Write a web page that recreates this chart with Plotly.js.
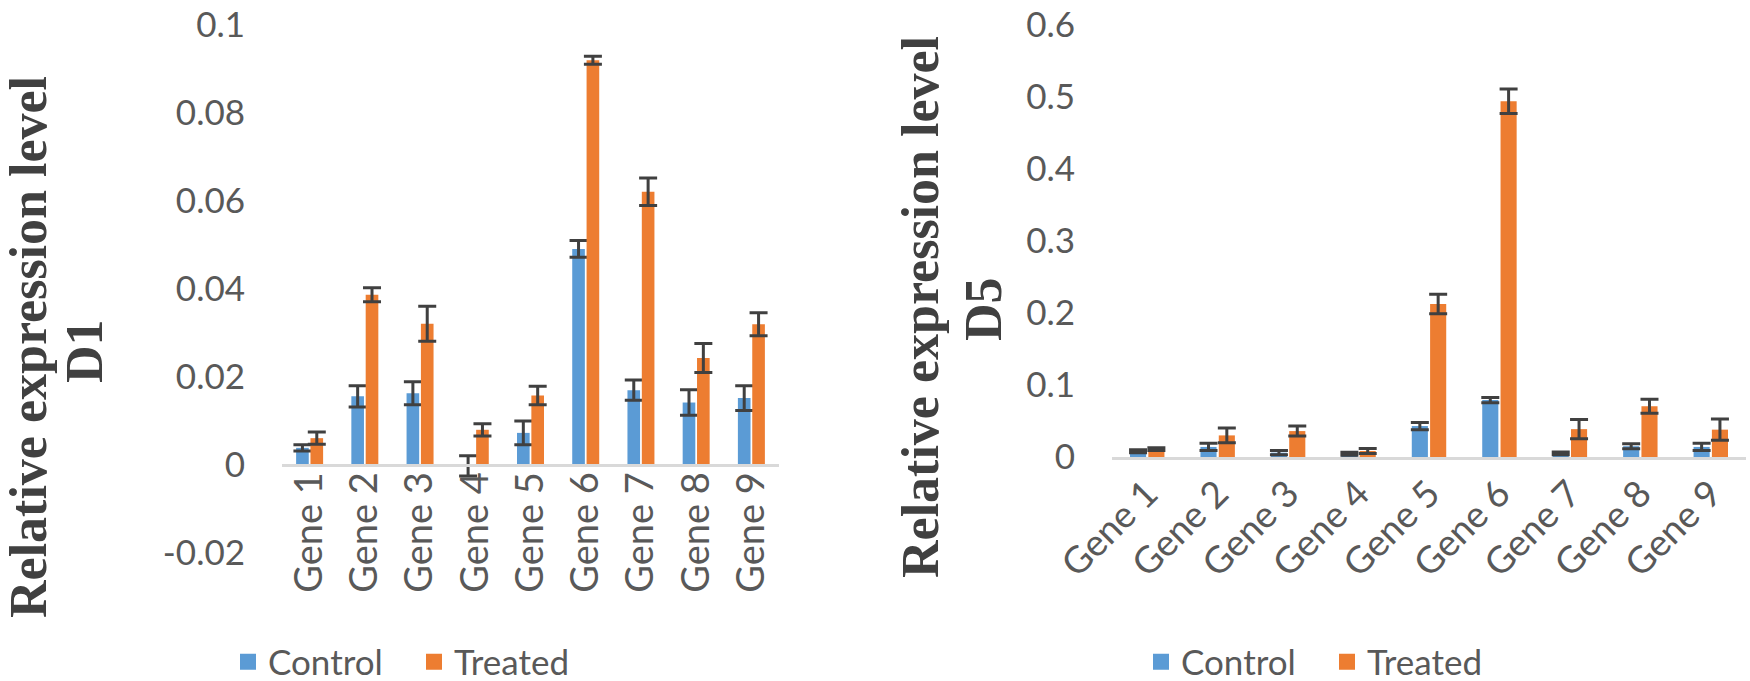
<!DOCTYPE html>
<html>
<head>
<meta charset="utf-8">
<script src="https://cdn.plot.ly/plotly-3.0.1.min.js"></script>
<style>
    html, body { margin: 0; padding: 0; background: #ffffff; }
    #chart { width: 1750px; height: 681px; }
</style>
</head>
<body>
<div id="chart"></div>
<script>
// gene names shared by both panels
const genes = ["Gene 1", "Gene 2", "Gene 3", "Gene 4", "Gene 5", "Gene 6", "Gene 7", "Gene 8", "Gene 9"];

// D1 panel
const d1Control    = [0.0039, 0.0156, 0.0163, -0.0002, 0.0073, 0.0491, 0.0170, 0.0142, 0.0152];
const d1ControlErr = [0.0007, 0.0024, 0.0026, 0.0023, 0.0027, 0.0019, 0.0023, 0.0029, 0.0028];
const d1Treated    = [0.0061, 0.0387, 0.0321, 0.0080, 0.0158, 0.0920, 0.0621, 0.0243, 0.0320];
const d1TreatedErr = [0.0014, 0.0016, 0.0040, 0.0014, 0.0021, 0.0009, 0.0031, 0.0033, 0.0026];

// D5 panel
const d5Control    = [0.008, 0.014, 0.006, 0.0045, 0.043, 0.079, 0.005, 0.015, 0.014];
const d5ControlErr = [0.002, 0.005, 0.003, 0.002, 0.005, 0.0035, 0.002, 0.0035, 0.005];
const d5Treated    = [0.011, 0.030, 0.036, 0.0084, 0.2125, 0.494, 0.0387, 0.0705, 0.038];
const d5TreatedErr = [0.002, 0.0103, 0.007, 0.0035, 0.0137, 0.017, 0.0133, 0.0098, 0.0148];

const d1Ticks = [-0.02, 0, 0.02, 0.04, 0.06, 0.08, 0.1];
const d5Ticks = [0, 0.1, 0.2, 0.3, 0.4, 0.5, 0.6];

const BLUE = "#5b9bd5";
const ORANGE = "#ed7d31";
const TEXT = "#595959";
const LABEL_FONT = "Lato, 'Open Sans', sans-serif";

window.addEventListener("DOMContentLoaded", init);


function init() {
    let data = dataset();
    Plotly.newPlot("chart", data, layout(), { staticPlot: true });
}


function barTrace(name, values, errors, color, xa, ya) {
    return {
        type: "bar",
        name: name,
        x: genes,
        y: values,
        xaxis: xa,
        yaxis: ya,
        showlegend: false,
        marker: { color: color },
        error_y: { type: "data", array: errors, visible: true, color: "#404040", thickness: 3, width: 9 }
    };
}


// legend-only entry, so the key gets a bigger square than the bar icon
function keyTrace(name, color, xa, ya, legend) {
    return {
        type: "scatter", mode: "markers", name: name,
        x: [null], y: [null], xaxis: xa, yaxis: ya, legend: legend,
        marker: { symbol: "square", size: 20, color: color }
    };
}


function dataset() {
    return [
        barTrace("Control", d1Control, d1ControlErr, BLUE, "x", "y"),
        barTrace("Treated", d1Treated, d1TreatedErr, ORANGE, "x", "y"),
        barTrace("Control", d5Control, d5ControlErr, BLUE, "x2", "y2"),
        barTrace("Treated", d5Treated, d5TreatedErr, ORANGE, "x2", "y2"),
        keyTrace("Control", BLUE, "x", "y", "legend"),
        keyTrace("Treated", ORANGE, "x", "y", "legend"),
        keyTrace("Control", BLUE, "x2", "y2", "legend2"),
        keyTrace("Treated", ORANGE, "x2", "y2", "legend2")
    ];
}


// helpers to turn page pixels into paper fractions (plot area 282..1746 x 25..553)
function px(x) { return (x - 282) / 1464; }
function py(y) { return (553 - y) / 528; }


function titleNote(text, x, y) {
    return {
        text: text, xref: "paper", yref: "paper", x: px(x), y: py(y),
        xanchor: "center", yanchor: "middle", textangle: -90, showarrow: false,
        font: { family: "'Liberation Serif', 'DejaVu Serif', serif", size: 52, color: "#404040", weight: "bold" }
    };
}


function layout() {
    let tickFont = { family: LABEL_FONT, size: 35, color: TEXT };
    let legendBase = {
        orientation: "h", xref: "paper", yref: "paper", yanchor: "middle",
        font: { family: LABEL_FONT, size: 35, color: TEXT },
        entrywidth: 141, entrywidthmode: "pixels", bgcolor: "rgba(0,0,0,0)"
    };
    return {
        width: 1750,
        height: 681,
        margin: { l: 282, r: 4, t: 25, b: 128, autoexpand: false },
        paper_bgcolor: "#ffffff",
        plot_bgcolor: "#ffffff",
        barmode: "group",
        bargap: 0.48,
        bargroupgap: 0.12,
        showlegend: true,
        xaxis: {
            domain: [0, px(779)], anchor: "free", position: 1 / 6,
            type: "category", showgrid: false, zeroline: false,
            showline: true, linecolor: "#d9d9d9", linewidth: 3,
            ticks: "", tickangle: -90, tickfont: { family: LABEL_FONT, size: 38, color: TEXT },
            ticklabelstandoff: -10
        },
        yaxis: {
            domain: [0, 1], anchor: "x", range: [-0.02, 0.1],
            tickvals: d1Ticks, ticktext: d1Ticks.map(String),
            showgrid: false, zeroline: false, showline: false, ticklabeloverflow: "allow",
            ticks: "", tickfont: tickFont, ticklabelstandoff: 36
        },
        xaxis2: {
            domain: [px(1112), 1], anchor: "y2",
            type: "category", showgrid: false, zeroline: false,
            showline: true, linecolor: "#d9d9d9", linewidth: 3,
            ticks: "", tickangle: -45, tickfont: { family: LABEL_FONT, size: 37, color: TEXT },
            ticklabelstandoff: -3
        },
        yaxis2: {
            domain: [py(457), 1], anchor: "x2", range: [0, 0.6],
            tickvals: d5Ticks, ticktext: d5Ticks.map(String),
            showgrid: false, zeroline: false, showline: false, ticklabeloverflow: "allow",
            ticks: "", tickfont: tickFont, ticklabelstandoff: 36
        },
        legend: Object.assign({}, legendBase, { x: px(228), y: py(662) }),
        legend2: Object.assign({}, legendBase, { x: px(1141), y: py(662) }),
        annotations: [
            titleNote("Relative expression level", 28, 347),
            titleNote("D1", 84, 351),
            titleNote("Relative expression level", 920, 307),
            titleNote("D5", 983, 309)
        ]
    };
}
</script>
</body>
</html>
